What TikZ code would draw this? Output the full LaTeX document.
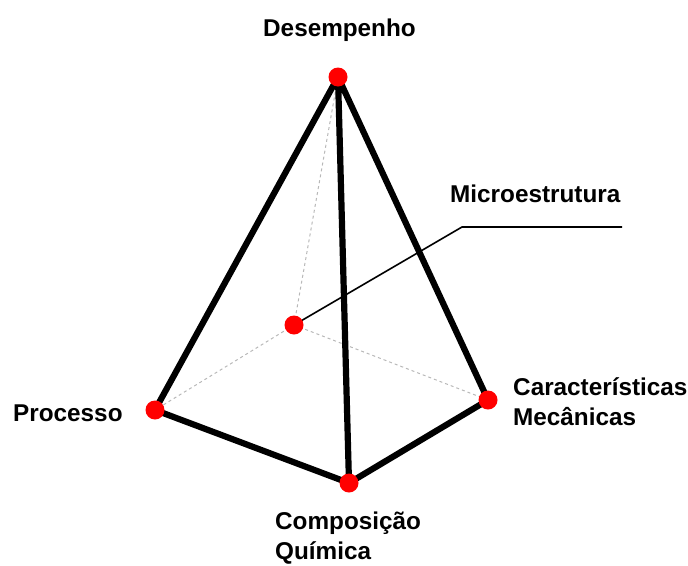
\documentclass[tikz,border=0pt]{standalone}
\usepackage{fontspec}
\setmainfont{Liberation Sans}
\begin{document}
\begin{tikzpicture}[x=1pt,y=-1pt,
  vtx/.style={circle,fill=red,inner sep=0pt,minimum size=19pt},
  edge/.style={line width=6.2pt,line cap=round,line join=round},
  hidden/.style={draw=black!28,line width=1pt,dash pattern=on 3pt off 3pt},
  lbl/.style={font=\bfseries\fontsize{24.3}{30}\selectfont,inner sep=0pt,anchor=base west,align=left}]
\useasboundingbox (0,0) rectangle (688,565);
\coordinate (D) at (338,77);
\coordinate (M) at (294,325);
\coordinate (P) at (155,410);
\coordinate (C) at (349,483);
\coordinate (K) at (488,400);
\coordinate (L1) at (462,227);
\coordinate (L2) at (622,227);
\draw[hidden] (M) -- (D);
\draw[hidden] (M) -- (P);
\draw[hidden] (M) -- (K);
\draw[edge] (D) -- (P) -- (C) -- (K) -- (D) -- (C);
\draw[line width=1.6pt] (M) -- (L1) -- (L2);
\node[vtx] (vD) at (D) {};
\node[vtx] (vM) at (M) {};
\node[vtx] (vP) at (P) {};
\node[vtx] (vC) at (C) {};
\node[vtx] (vK) at (K) {};
\node[lbl] (tD) at (263,36) {Desempenho};
\node[lbl] (tM) at (450,202) {Microestrutura};
\node[lbl] (tP) at (13,421) {Processo};
\node[lbl] (tK) at (513,425) {Características\\Mecânicas};
\node[lbl] (tC) at (275,559) {Composição\\Química};
\end{tikzpicture}
\end{document}
